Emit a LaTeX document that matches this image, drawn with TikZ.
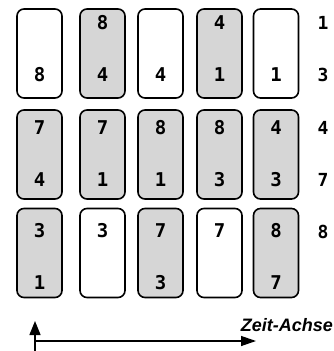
\documentclass[tikz,border=0pt]{standalone}
\usepackage{fontspec}
\setmainfont{Liberation Sans}
\newfontfamily\digfont{DejaVu Sans Mono}
\usetikzlibrary{arrows.meta}
\begin{document}
\begin{tikzpicture}[x=1pt,y=-1pt,
  card/.style={draw=black,line width=1.6pt,rounded corners=7pt,minimum width=45pt,minimum height=89pt,inner sep=0pt},
  white card/.style={card,fill=white},
  dot card/.style={card,fill=black!16},
  num/.style={font=\digfont\bfseries\fontsize{19}{19}\selectfont,inner sep=0pt},
  side/.style={font=\digfont\bfseries\fontsize{18}{18}\selectfont,inner sep=0pt}]
\useasboundingbox (0,0) rectangle (334,351);
% columns centres
\def\ca{39.5}\def\cb{102.5}\def\cc{160.5}\def\cd{219.5}\def\ce{276}
% row 1
\node[white card] (r1a) at (\ca,53.5) {};
\node[dot card] (r1b) at (\cb,53.5) {};
\node[white card] (r1c) at (\cc,53.5) {};
\node[dot card] (r1d) at (\cd,53.5) {};
\node[white card] (r1e) at (\ce,53.5) {};
\node[num] (n1ab) at (\ca,75) {8};
\node[num] (n1bt) at (\cb,23) {8};
\node[num] (n1bb) at (\cb,75) {4};
\node[num] (n1cb) at (\cc,75) {4};
\node[num] (n1dt) at (\cd,23) {4};
\node[num] (n1db) at (\cd,75) {1};
\node[num] (n1eb) at (\ce,75) {1};
% row 2
\node[dot card] (r2a) at (\ca,154.5) {};
\node[dot card] (r2b) at (\cb,154.5) {};
\node[dot card] (r2c) at (\cc,154.5) {};
\node[dot card] (r2d) at (\cd,154.5) {};
\node[dot card] (r2e) at (\ce,154.5) {};
\node[num] (n2at) at (\ca,128) {7};
\node[num] (n2ab) at (\ca,180) {4};
\node[num] (n2bt) at (\cb,128) {7};
\node[num] (n2bb) at (\cb,180) {1};
\node[num] (n2ct) at (\cc,128) {8};
\node[num] (n2cb) at (\cc,180) {1};
\node[num] (n2dt) at (\cd,128) {8};
\node[num] (n2db) at (\cd,180) {3};
\node[num] (n2et) at (\ce,128) {4};
\node[num] (n2eb) at (\ce,180) {3};
% row 3
\node[dot card] (r3a) at (\ca,253) {};
\node[white card] (r3b) at (\cb,253) {};
\node[dot card] (r3c) at (\cc,253) {};
\node[white card] (r3d) at (\cd,253) {};
\node[dot card] (r3e) at (\ce,253) {};
\node[num] (n3at) at (\ca,231) {3};
\node[num] (n3ab) at (\ca,283) {1};
\node[num] (n3bt) at (\cb,231) {3};
\node[num] (n3ct) at (\cc,231) {7};
\node[num] (n3cb) at (\cc,283) {3};
\node[num] (n3dt) at (\cd,231) {7};
\node[num] (n3et) at (\ce,231) {8};
\node[num] (n3eb) at (\ce,283) {7};
% side labels
\node[side] (s1) at (323,23) {1};
\node[side] (s3) at (323,75) {3};
\node[side] (s4) at (323,128) {4};
\node[side] (s7) at (323,180) {7};
\node[side] (s8) at (323,232) {8};
% axes
\coordinate (o) at (35,341);
\coordinate (vb) at (35,351);
\coordinate (vt) at (35,321);
\coordinate (he) at (256,341);
\draw[line width=1.3pt,-{Triangle[length=14pt,width=11pt]}] (vb) -- (vt);
\draw[line width=1.3pt,-{Triangle[length=15pt,width=10pt]}] (o) -- (he);
\node[font=\bfseries\itshape\fontsize{18}{18}\selectfont,inner sep=0pt,anchor=east] (zeit) at (333,325) {Zeit-Achse};
\end{tikzpicture}
\end{document}
